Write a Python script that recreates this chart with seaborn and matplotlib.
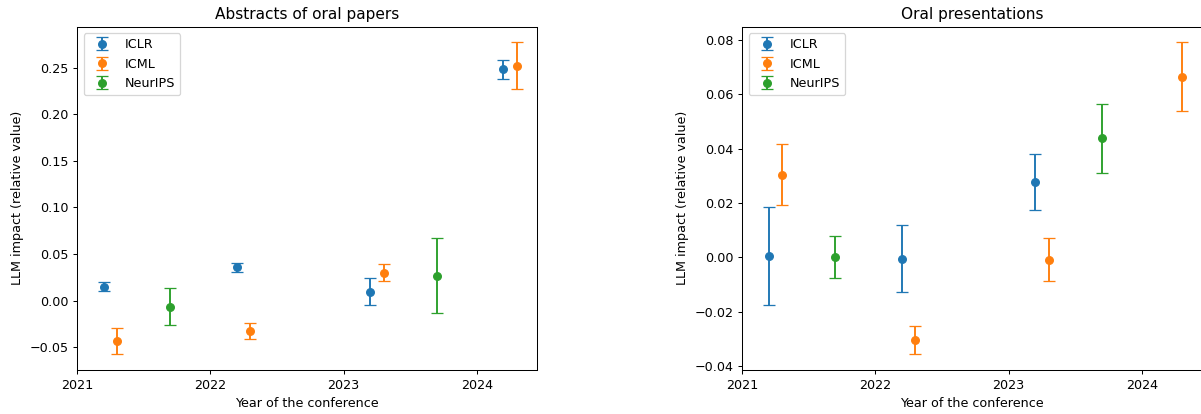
import numpy as np
import seaborn as sns
import matplotlib.pyplot as plt

# Values (point estimate and +/- error)
years = [2021, 2022, 2023, 2024]
conferences = ['ICLR', 'ICML', 'NeurIPS']

abstract_iclr = [0.0150, 0.0360, 0.0095, 0.2480]
abstract_iclr_err = [0.0047, 0.0048, 0.0147, 0.0106]
abstract_icml = [-0.0434, -0.0323, 0.0301, 0.2518]
abstract_icml_err = [0.0143, 0.0088, 0.0088, 0.0253]
abstract_neurips = [-0.0065, np.nan, 0.0269, np.nan]
abstract_neurips_err = [0.0195, np.nan, 0.0398, np.nan]

oral_iclr = [0.0005, -0.0005, 0.0278, np.nan]
oral_iclr_err = [0.0180, 0.0123, 0.0103, np.nan]
oral_icml = [0.0304, -0.0305, -0.0009, 0.0665]
oral_icml_err = [0.0112, 0.0053, 0.0080, 0.0127]
oral_neurips = [0.0000, np.nan, 0.0438, np.nan]
oral_neurips_err = [0.0077, np.nan, 0.0128, np.nan]

panels = [
    ('Abstracts of oral papers',
     [abstract_iclr, abstract_icml, abstract_neurips],
     [abstract_iclr_err, abstract_icml_err, abstract_neurips_err]),
    ('Oral presentations',
     [oral_iclr, oral_icml, oral_neurips],
     [oral_iclr_err, oral_icml_err, oral_neurips_err]),
]

# each conference is shifted inside its year
offsets = {'ICLR': 0.2, 'ICML': 0.3, 'NeurIPS': 0.7}
colors = sns.color_palette('tab10', 3)

dpi = 92
fig = plt.figure(figsize=(1201 / dpi, 414 / dpi), dpi=dpi)
W, H = 1201, 414
# second panel runs off the right edge, as in the reference crop
ax_boxes = [
    [77.3 / W, 44 / H, 460 / W, 343.3 / H],
    [742.3 / W, 44 / H, 460 / W, 343.3 / H],
]

for box, (title, values, errors) in zip(ax_boxes, panels):
    ax = fig.add_axes(box)
    for conf, vals, errs, col in zip(conferences, values, errors, colors):
        x = np.array(years) + offsets[conf]
        ax.errorbar(x, vals, yerr=errs, fmt='o', color=col, capsize=5, label=conf)
    ax.set_xticks(years)
    ax.set_xlim(left=2021)
    ax.set_title(title)
    ax.set_xlabel('Year of the conference')
    ax.set_ylabel('LLM impact (relative value)')
    ax.legend(loc='upper left')

fig.savefig('out.png', dpi=dpi)
